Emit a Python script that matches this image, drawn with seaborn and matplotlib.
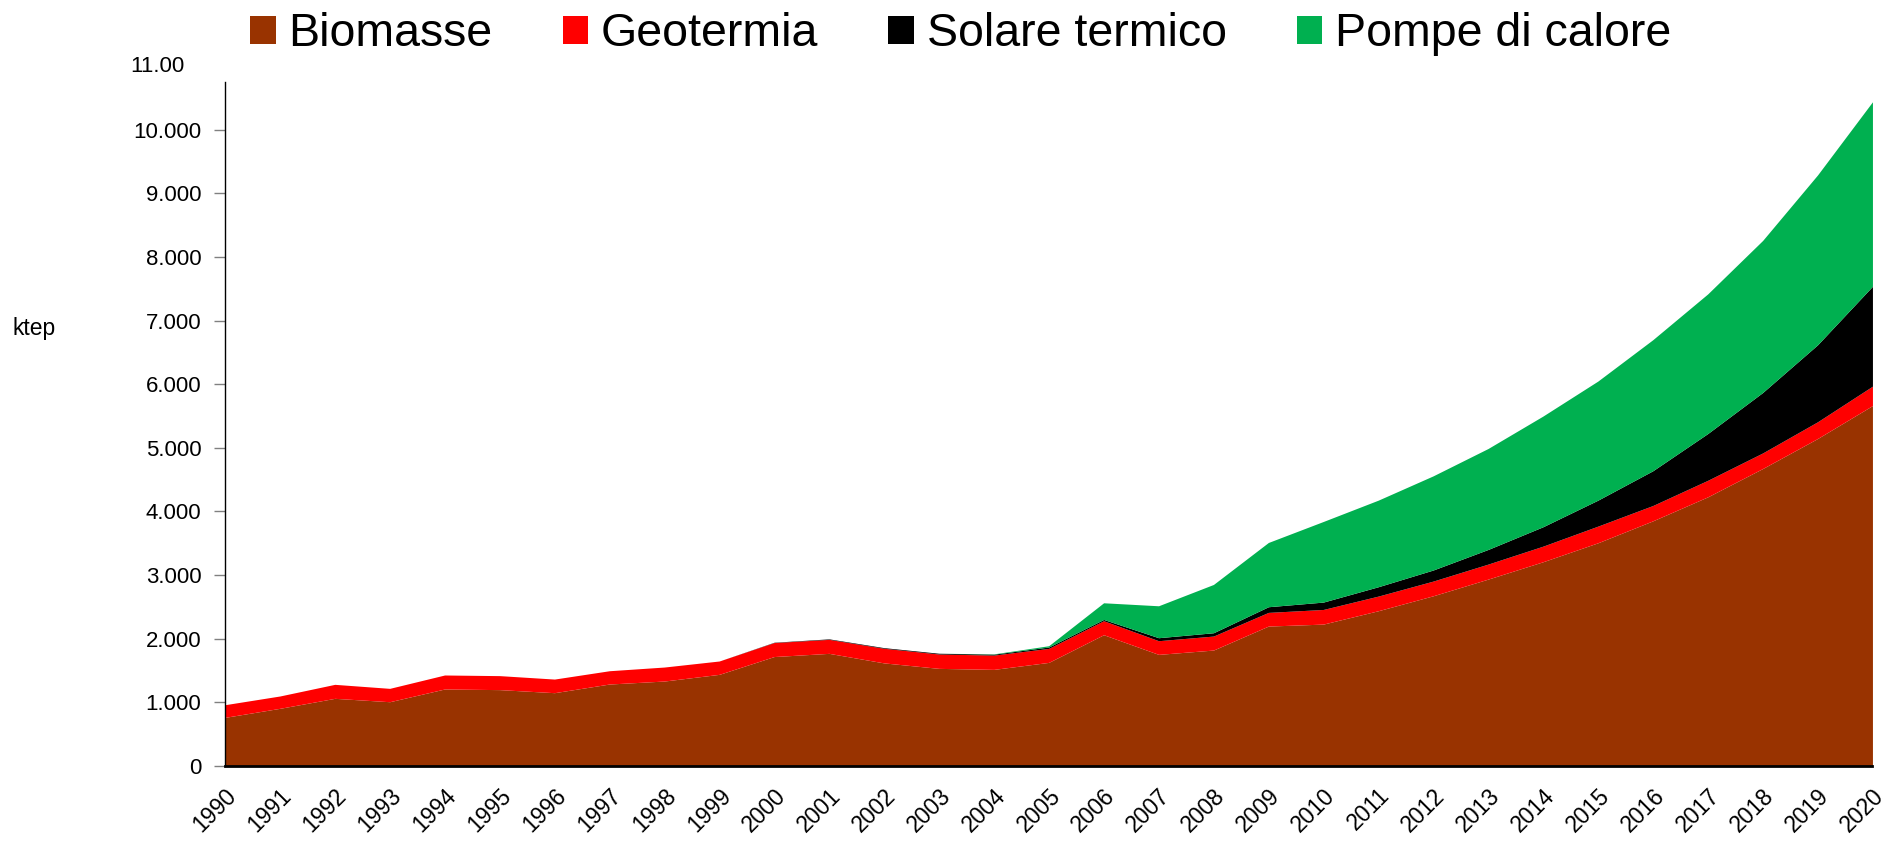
import seaborn as sns
import matplotlib.pyplot as plt
from matplotlib.patches import Patch
from matplotlib.ticker import FixedLocator, FuncFormatter

years = list(range(1990, 2021))
biomasse = [764, 906, 1063, 1010, 1210, 1200, 1152, 1288, 1335, 1440, 1720, 1770, 1620, 1534, 1518,
            1628, 2063, 1754, 1822, 2199, 2230, 2440, 2675, 2937, 3210, 3508, 3853, 4230, 4675, 5147, 5665]
geotermia = [199, 194, 220, 210, 220, 220, 214, 209, 220, 210, 220, 220, 230, 226, 225,
             220, 220, 215, 220, 215, 230, 230, 231, 236, 245, 262, 241, 260, 245, 263, 305]
solare = [0, 0, 0, 0, 0, 0, 0, 0, 0, 0, 5, 8, 10, 12, 14,
          22, 20, 47, 52, 89, 116, 147, 174, 230, 305, 408, 546, 735, 950, 1210, 1570]
pompe = [0, 0, 0, 0, 0, 0, 0, 0, 0, 0, 0, 0, 0, 0, 5,
         20, 262, 502, 759, 1010, 1267, 1361, 1480, 1587, 1740, 1872, 2060, 2195, 2390, 2670, 2900]

series_names = ['Biomasse', 'Geotermia', 'Solare termico', 'Pompe di calore']
colors = ['#993300', '#ff0000', '#000000', '#00b050']
yticks = list(range(0, 11000, 1000))

sns.set_style('white', {'text.color': 'black', 'xtick.color': 'black', 'ytick.color': 'black'})
plt.rcParams['font.family'] = ['Liberation Sans', 'DejaVu Sans']

fig = plt.figure(figsize=(18.95, 8.46), dpi=100)
ax = fig.add_axes([0.1187, 0.0946, 0.8694, 0.8084])

ax.stackplot(years, biomasse, geotermia, solare, pompe, colors=colors, linewidth=0)

ax.set_xlim(1990, 2020)
ax.set_ylim(0, 10750)
ax.yaxis.set_major_locator(FixedLocator(yticks))
ax.yaxis.set_major_formatter(FuncFormatter(lambda v, p: f"{v:,.0f}".replace(",", ".")))
ax.set_xticks(years)
ax.set_xticklabels([str(y) for y in years], rotation=45, ha='right', va='top',
                   rotation_mode='anchor', fontsize=16.5)
ax.tick_params(axis='y', labelsize=16, length=8, width=1, color='#808080', labelcolor='black',
               pad=9, left=True)
ax.tick_params(axis='x', length=0, pad=13, labelcolor='black')

sns.despine(ax=ax)
ax.spines['left'].set_linewidth(1)
ax.spines['left'].set_color('black')
ax.spines['bottom'].set_linewidth(2)
ax.spines['bottom'].set_color('black')

# clipped top label as in the original
ax.text(-0.0243, 11000, '11.00', transform=ax.get_yaxis_transform(), ha='right', va='center',
        fontsize=16, color='black', clip_on=False)

ax.text(-0.129, 6870, 'ktep', transform=ax.get_yaxis_transform(), ha='left', va='center',
        fontsize=16.5, color='black')

handles = [Patch(facecolor=c, edgecolor='none') for c in colors]
fig.legend(handles, series_names, loc='upper center', bbox_to_anchor=(0.507, 1.035), ncol=4,
           frameon=False, fontsize=33.5, handlelength=0.55, handleheight=0.55,
           handletextpad=0.28, columnspacing=1.5, labelcolor='black')

fig.savefig('out.png', dpi=100)
